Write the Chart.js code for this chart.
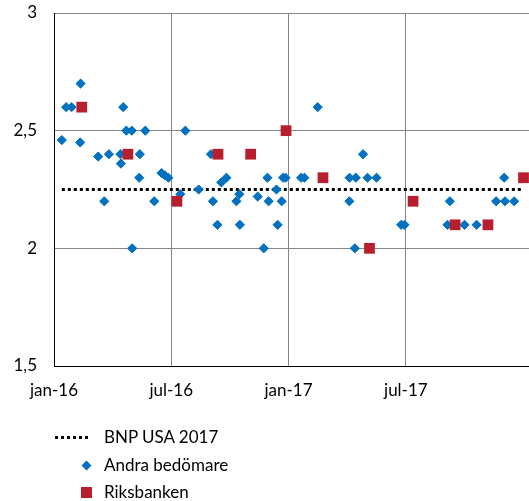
<!DOCTYPE html>
<html>
<head>
<meta charset="utf-8">
<script src="https://cdn.jsdelivr.net/npm/chart.js@4"></script>
<style>
  body { margin: 0; background: #fff; overflow: hidden; }
  #wrap { position: relative; width: 529px; height: 501px; overflow: hidden; }
  #legend { position: absolute; left: 0; top: 0; font-family: Lato, sans-serif; font-size: 17px; color: #000; }
  .item { position: absolute; left: 104px; white-space: nowrap; line-height: 20px; }
  .swatch { position: absolute; }
</style>
</head>
<body>
<div id="wrap">
  <canvas id="chart"></canvas>
  <div id="legend"></div>
</div>
<script>
// x values are months since jan-16
const tickMonths = [0, 6, 12, 18]
const tickLabels = ['jan-16', 'jul-16', 'jan-17', 'jul-17']
const yTicks = [1.5, 2, 2.5, 3]

const bnpMonths = [0.4, 24]
const bnpValues = [2.25, 2.25]

const andraMonths = [0.40, 0.62, 0.90, 1.34, 1.36, 2.26, 2.57, 2.81, 3.40, 3.42, 3.54, 3.70, 3.98, 4.00, 4.36, 4.39, 4.67, 5.13, 5.50, 5.67,
  5.85, 6.46, 6.72, 7.40, 8.03, 8.13, 8.36, 8.56, 8.82, 9.33, 9.48, 9.51, 10.42, 10.73, 10.92, 10.98, 11.38, 11.44, 11.65, 11.72,
  11.85, 12.64, 12.81, 13.49, 15.11, 15.12, 15.39, 15.44, 15.81, 16.04, 16.50, 17.76, 17.93, 20.13, 20.25, 21.00, 21.62, 22.62, 23.03, 23.07, 23.54]
const andraValues = [2.46, 2.6, 2.6, 2.45, 2.7, 2.39, 2.2, 2.4, 2.4, 2.36, 2.6, 2.5, 2.5, 2.0, 2.3, 2.4, 2.5, 2.2, 2.32, 2.31,
  2.3, 2.23, 2.5, 2.25, 2.4, 2.2, 2.1, 2.28, 2.3, 2.2, 2.23, 2.1, 2.22, 2.0, 2.3, 2.2, 2.25, 2.1, 2.2, 2.3,
  2.3, 2.3, 2.3, 2.6, 2.2, 2.3, 2.0, 2.3, 2.4, 2.3, 2.3, 2.1, 2.1, 2.1, 2.2, 2.1, 2.1, 2.2, 2.3, 2.2, 2.2]

const riksMonths = [1.42, 3.78, 6.29, 8.39, 10.06, 11.87, 13.76, 16.14, 18.37, 20.52, 22.2, 24.02]
const riksValues = [2.6, 2.4, 2.2, 2.4, 2.4, 2.5, 2.3, 2.0, 2.2, 2.1, 2.1, 2.3]

const BLUE = '#0070C0'
const RED = '#B81F2E'
const GRID = '#858585'

function toPoints(xs, ys){
  return xs.map((x, i) => ({x: x, y: ys[i]}))
}

const chart = new Chart(document.getElementById('chart'), {
  type: 'scatter',
  data: {
    datasets: [{
      label: 'BNP USA 2017',
      data: toPoints(bnpMonths, bnpValues),
      showLine: true,
      borderColor: '#000',
      borderWidth: 3,
      borderDash: [3, 3],
      borderCapStyle: 'butt',
      pointRadius: 0,
      order: 2
    }, {
      label: 'Andra bedömare',
      data: toPoints(andraMonths, andraValues),
      pointStyle: 'rectRot',
      pointRadius: 4.6,
      backgroundColor: BLUE,
      borderColor: BLUE,
      borderWidth: 1,
      order: 1
    }, {
      label: 'Riksbanken',
      data: toPoints(riksMonths, riksValues),
      pointStyle: 'rect',
      pointRadius: 7.6,
      backgroundColor: RED,
      borderColor: RED,
      borderWidth: 0,
      order: 0
    }]
  },
  options: {
    responsive: true,
    maintainAspectRatio: false,
    animation: false,
    layout: { autoPadding: false, padding: { top: 13, right: 0, left: 0, bottom: 0 } },
    plugins: {
      legend: { display: false },
      tooltip: { enabled: false }
    },
    scales: {
      x: {
        type: 'linear',
        min: 0,
        max: 24.3,
        afterBuildTicks: axis => { axis.ticks = tickMonths.map(v => ({value: v})) },
        afterFit: axis => {
          axis.height = 135
          axis.paddingLeft = 0
          axis.paddingRight = 0
        },
        grid: {
          color: ctx => ctx.tick && ctx.tick.value === 0 ? 'rgba(0,0,0,0)' : GRID,
          lineWidth: 1,
          drawTicks: false
        },
        border: { color: '#000', width: 1 },
        ticks: {
          padding: 14,
          maxRotation: 0,
          color: '#000',
          font: { family: 'Lato', size: 17 },
          callback: v => {
            const i = tickMonths.indexOf(v)
            return i < 0 ? '' : tickLabels[i]
          }
        }
      },
      y: {
        min: 1.5,
        max: 3,
        afterBuildTicks: axis => { axis.ticks = yTicks.map(v => ({value: v})) },
        afterFit: axis => {
          axis.width = 54
          axis.paddingTop = 0
          axis.paddingBottom = 0
        },
        grid: {
          color: ctx => ctx.tick && ctx.tick.value === 1.5 ? 'rgba(0,0,0,0)' : GRID,
          lineWidth: 1,
          drawTicks: false
        },
        border: { color: '#000', width: 1 },
        ticks: {
          padding: 17,
          color: '#000',
          font: { family: 'Lato', size: 17 },
          callback: v => String(v).replace('.', ',')
        }
      }
    }
  }
})

// legend, one entry per row below the plot
const legend = document.getElementById('legend')
const rowY = [437, 465, 492]
chart.data.datasets.forEach((ds, i) => {
  const sw = document.createElement('div')
  sw.className = 'swatch'
  if (i === 0) {
    sw.style.left = '55px'
    sw.style.top = (rowY[i] - 1.5) + 'px'
    sw.style.width = '36px'
    sw.style.height = '3px'
    sw.style.background = 'repeating-linear-gradient(to right, #000 0 3px, transparent 3px 6px)'
  } else if (i === 1) {
    sw.style.left = (86 - 3.5) + 'px'
    sw.style.top = (rowY[i] - 3.5) + 'px'
    sw.style.width = '7px'
    sw.style.height = '7px'
    sw.style.background = BLUE
    sw.style.transform = 'rotate(45deg)'
  } else {
    sw.style.left = (86 - 5.5) + 'px'
    sw.style.top = (rowY[i] - 5.5) + 'px'
    sw.style.width = '11px'
    sw.style.height = '11px'
    sw.style.background = RED
  }
  legend.appendChild(sw)
  const t = document.createElement('div')
  t.className = 'item'
  t.style.top = (rowY[i] - 10) + 'px'
  t.textContent = ds.label
  legend.appendChild(t)
})
</script>
</body>
</html>
